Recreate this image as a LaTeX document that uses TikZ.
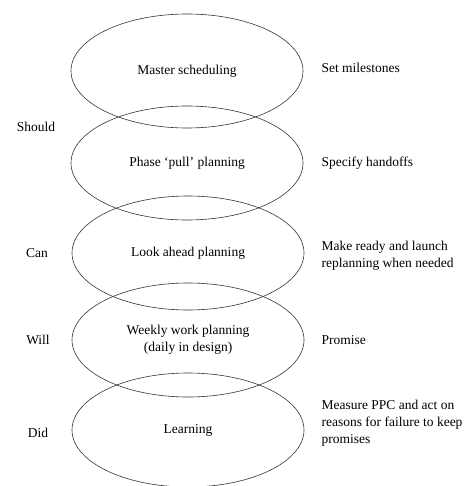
\documentclass[tikz,border=0pt]{standalone}
\usepackage{fontspec}
\setmainfont{Liberation Serif}
\usetikzlibrary{shapes}

\tikzset{
	phase/.style={draw=black!80,line width=.6pt,ellipse,minimum width=232pt,minimum height=114pt,inner sep=0pt,align=center},
	level/.style={anchor=center},
	action/.style={anchor=west,align=left}
}

\begin{document}
\begin{tikzpicture}[x=1pt,y=-1pt,font=\fontsize{13.5}{17}\selectfont]
	\useasboundingbox (0,0) rectangle (467,486);
	%    levels of planning
	\node[phase] (master) at (187,71) {};
	\node[phase] (pull) at (187,163) {};
	\node[phase] (ahead) at (188,253) {};
	\node[phase] (weekly) at (188,340) {};
	\node[phase] (learn) at (188,430) {};
	
	\node at (master.center) {Master scheduling};
	\node at (pull.center) {Phase ‘pull’ planning};
	\node at (ahead.center) {Look ahead planning};
	\node[align=center] at (weekly.center) {Weekly work planning\\(daily in design)};
	\node at (learn.center) {Learning};
	
	\node[level] (should) at (36,127) {Should};
	\node[level] (can) at (37,253) {Can};
	\node[level] (will) at (38,340) {Will};
	\node[level] (did) at (38,433) {Did};
	
	\node[action] (milestones) at (318,68) {Set milestones};
	\node[action] (handoffs) at (318,163) {Specify handoffs};
	\node[action] (ready) at (318,256) {Make ready and launch\\replanning when needed};
	\node[action] (promise) at (318,340) {Promise};
	\node[action] (measure) at (318,423) {Measure PPC and act on\\reasons for failure to keep\\promises};
	
\end{tikzpicture}
\end{document}
